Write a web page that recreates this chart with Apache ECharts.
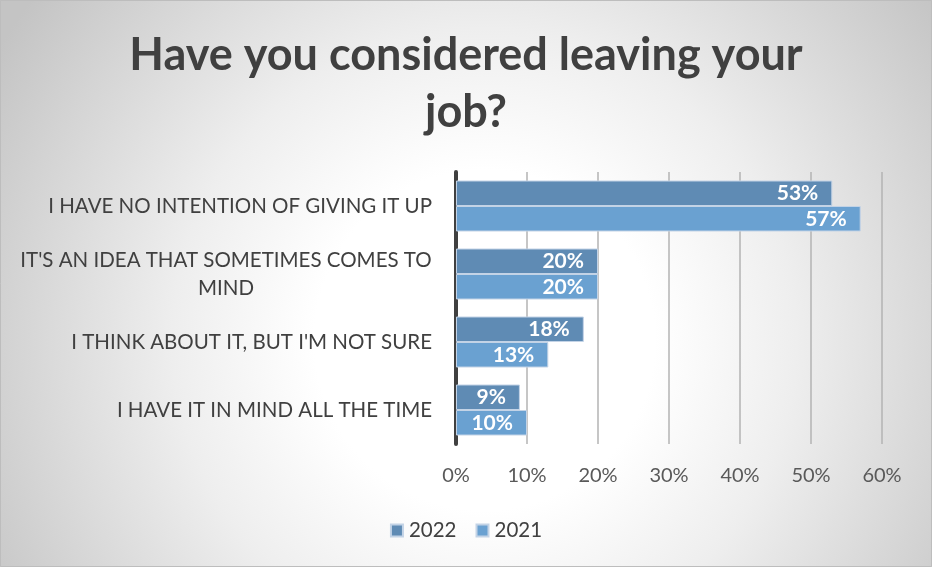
<!DOCTYPE html>
<html>
<head>
<meta charset="utf-8">
<script src="https://cdn.jsdelivr.net/npm/echarts@6/dist/echarts.min.js"></script>
<style>
  html, body { margin: 0; padding: 0; background: #fff; }
  #chart { width: 932px; height: 567px; }
</style>
</head>
<body>
<div id="chart"></div>
<script>
const titleText = 'Have you considered leaving your\njob?';
const categories = [
  'I HAVE NO INTENTION OF GIVING IT UP',
  "IT'S AN IDEA THAT SOMETIMES COMES TO MIND",
  "I THINK ABOUT IT, BUT I'M NOT SURE",
  'I HAVE IT IN MIND ALL THE TIME'
];
const seriesNames = ['2022', '2021'];
const values2022 = [53, 20, 18, 9];
const values2021 = [57, 20, 13, 10];
const xTicks = [0, 10, 20, 30, 40, 50, 60];

const FONT = 'Lato, "Open Sans", sans-serif';
const catFontSize = 20.5;
const maxLabelWidth = 426;

const ctx = document.createElement('canvas').getContext('2d');
ctx.font = 'normal ' + catFontSize + 'px Lato';
function wrapLabel(text) {
  const words = text.split(' ');
  const lines = [];
  let cur = '';
  words.forEach(w => {
    const t = cur ? cur + ' ' + w : w;
    if (ctx.measureText(t).width > maxLabelWidth && cur) { lines.push(cur); cur = w; }
    else cur = t;
  });
  if (cur) lines.push(cur);
  return lines;
}
const richStyles = {};
function labelFormatter(value, idx) {
  const lines = wrapLabel(value);
  if (lines.length === 1) return value;
  const w = Math.max.apply(null, lines.map(l => ctx.measureText(l).width));
  const key = 'c' + idx;
  richStyles[key] = { width: Math.ceil(w), align: 'center', fontSize: catFontSize, fontFamily: FONT, color: '#404040', lineHeight: 28 };
  return lines.map(l => '{' + key + '|' + l + '}').join('\n');
}
categories.forEach((c, i) => labelFormatter(c, i));

const chart = echarts.init(document.getElementById('chart'), null, { renderer: 'canvas' });
chart.setOption({
  animation: false,
  backgroundColor: {
    type: 'radial', x: 0.52, y: 0.6, r: 1.0,
    colorStops: [
      { offset: 0, color: '#ffffff' },
      { offset: 0.3, color: '#ffffff' },
      { offset: 0.55, color: '#eeeeee' },
      { offset: 0.82, color: '#d5d5d5' },
      { offset: 1, color: '#c4c4c4' }
    ]
  },
  graphic: [{
    type: 'rect', silent: true, z: 100,
    shape: { x: 0.5, y: 0.5, width: 931, height: 566 },
    style: { fill: null, stroke: '#bdbdbd', lineWidth: 1 }
  }],
  title: {
    text: titleText,
    left: 'center',
    top: 22,
    textStyle: { fontFamily: FONT, fontSize: 45, fontWeight: 'bold', color: '#404040', lineHeight: 57 }
  },
  legend: {
    data: seriesNames,
    left: 'center',
    top: 515,
    itemWidth: 12,
    itemHeight: 12,
    itemGap: 19,
    icon: 'rect',
    textStyle: { fontFamily: FONT, fontSize: 20.5, color: '#404040', padding: [0, 0, 0, 1] }
  },
  grid: { left: 456, right: 50, top: 172, bottom: 123, containLabel: false },
  xAxis: {
    type: 'value',
    min: xTicks[0],
    max: xTicks[xTicks.length - 1],
    interval: 10,
    axisLine: { show: false },
    axisTick: { show: false },
    splitLine: { show: true, lineStyle: { color: '#b3b3b3', width: 1.5 } },
    axisLabel: { formatter: '{value}%', fontFamily: FONT, fontSize: 20, color: '#595959', margin: 22 }
  },
  yAxis: {
    type: 'category',
    data: categories,
    inverse: true,
    axisLine: { show: true, lineStyle: { color: '#404040', width: 4 } },
    axisTick: { show: false },
    axisLabel: {
      fontFamily: FONT, fontSize: catFontSize, color: '#404040', margin: 24,
      align: 'right', formatter: labelFormatter, rich: richStyles
    }
  },
  series: [
    {
      name: seriesNames[0], type: 'bar', data: values2022,
      barGap: '0%', barCategoryGap: '25%',
      itemStyle: { color: '#5f8bb4', borderColor: '#c3d3e6', borderWidth: 1 },
      label: { show: true, position: 'insideRight', distance: 14, formatter: '{c}%', color: '#ffffff', fontFamily: FONT, fontSize: 21, fontWeight: 'bold' }
    },
    {
      name: seriesNames[1], type: 'bar', data: values2021,
      barGap: '0%', barCategoryGap: '25%',
      itemStyle: { color: '#6aa1d1', borderColor: '#c3d3e6', borderWidth: 1 },
      label: { show: true, position: 'insideRight', distance: 14, formatter: '{c}%', color: '#ffffff', fontFamily: FONT, fontSize: 21, fontWeight: 'bold' }
    }
  ]
});
</script>
</body>
</html>
